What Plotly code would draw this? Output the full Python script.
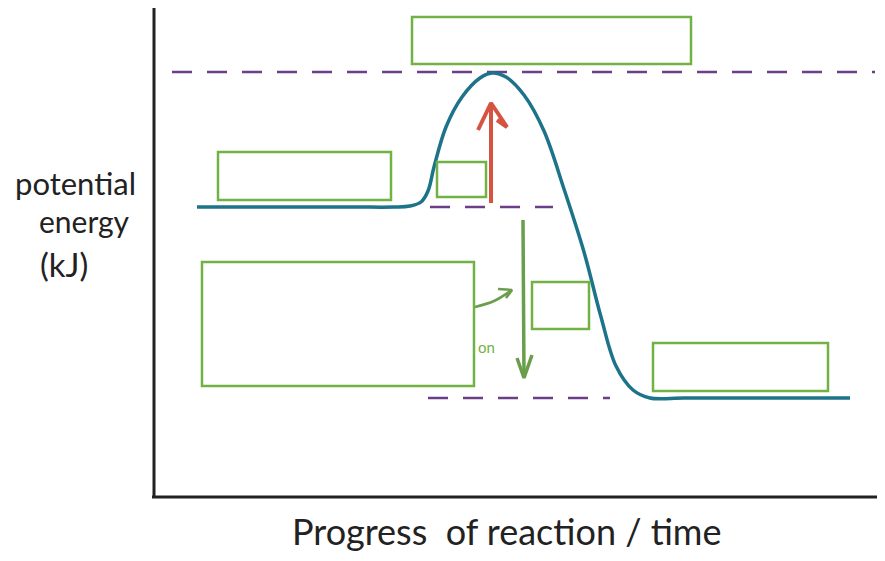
import plotly.graph_objects as go

# ---- data (progress units = px from y-axis, energy units = px above x-axis) ----
curve_progress = [43, 120, 200, 240, 256, 267, 274, 280, 292, 308, 326, 338, 352, 370, 390, 410, 430, 447, 462, 479, 496, 530, 600, 696]
curve_energy = [290, 290, 290, 290, 291, 295, 306, 330, 370, 400, 419, 424, 420, 402, 366, 308, 245, 180, 131, 107, 99, 99, 99, 99]

peak_energy = 425
reactant_energy = 290
product_energy = 99

# dashed guide levels: (start, end, level)
guide_start = [18, 276, 274]
guide_end = [721, 399, 456]
guide_level = [peak_energy, reactant_energy, product_energy]

# label boxes (blank)
box_x0 = [258, 64, 283, 48, 378, 499]
box_x1 = [537, 237, 332, 320, 435, 674]
box_y0 = [433, 297, 300, 111, 168, 106]
box_y1 = [480, 345, 335, 235, 215, 154]

# activation energy arrow (up) and enthalpy arrow (down)
ea_x = [337, 337]
ea_y = [294, 394]
ea_head_x = [324, 337, 353, 343]
ea_head_y = [367, 394, 370, 377]
dh_x = [369, 370]
dh_y = [277, 119]
dh_head_x = [363, 370, 378]
dh_head_y = [139, 119, 142]
pointer_x = [321, 340, 358]
pointer_y = [190, 196, 207]
pointer_head_x = [344, 358, 352]
pointer_head_y = [208, 207, 199]

x_title = "Progress  of reaction / time"
y_title = ["potential", "energy", "(kJ)"]

fig = go.Figure()

# guide lines
for s, e, lv in zip(guide_start, guide_end, guide_level):
    fig.add_trace(go.Scatter(x=[s, e], y=[lv, lv], mode="lines",
                             line=dict(color="#6b3f87", width=2.5, dash="20px,15px"),
                             hoverinfo="skip", showlegend=False))

# boxes
for x0, x1, y0, y1 in zip(box_x0, box_x1, box_y0, box_y1):
    fig.add_shape(type="rect", x0=x0, x1=x1, y0=y0, y1=y1, xref="x", yref="y",
                  line=dict(color="#72b244", width=2.5), fillcolor="rgba(0,0,0,0)")

# energy curve
fig.add_trace(go.Scatter(x=curve_progress, y=curve_energy, mode="lines",
                         line=dict(color="#1d7389", width=3.5, shape="spline", smoothing=1.0),
                         hoverinfo="skip", showlegend=False))

# arrows
fig.add_trace(go.Scatter(x=ea_x, y=ea_y, mode="lines", line=dict(color="#d65241", width=4),
                         hoverinfo="skip", showlegend=False))
fig.add_trace(go.Scatter(x=ea_head_x, y=ea_head_y, mode="lines", line=dict(color="#d65241", width=4),
                         hoverinfo="skip", showlegend=False))
fig.add_trace(go.Scatter(x=dh_x, y=dh_y, mode="lines", line=dict(color="#6a9e4c", width=3.5),
                         hoverinfo="skip", showlegend=False))
fig.add_trace(go.Scatter(x=dh_head_x, y=dh_head_y, mode="lines", line=dict(color="#6a9e4c", width=3.5),
                         hoverinfo="skip", showlegend=False))
fig.add_trace(go.Scatter(x=pointer_x, y=pointer_y, mode="lines",
                         line=dict(color="#6a9e4c", width=2.5, shape="spline"),
                         hoverinfo="skip", showlegend=False))
fig.add_trace(go.Scatter(x=pointer_head_x, y=pointer_head_y, mode="lines",
                         line=dict(color="#6a9e4c", width=2.5),
                         hoverinfo="skip", showlegend=False))

# hand-drawn axes
fig.add_shape(type="line", x0=0, x1=0, y0=0, y1=492, xref="x", yref="y",
              line=dict(color="#222222", width=3))
fig.add_shape(type="line", x0=-2, x1=731, y0=0, y1=0, xref="x", yref="y",
              line=dict(color="#222222", width=3))

# texts
fig.add_annotation(x=332, y=150, text="on", showarrow=False, xanchor="center", yanchor="middle",
                   font=dict(family="Lato", size=15, color="#72b244"))
fig.add_annotation(x=352, y=-34, text=x_title, showarrow=False, xanchor="center", yanchor="middle",
                   font=dict(family="Lato", size=36, color="#222222"))
for txt, xx, yy, sz in zip(y_title, [-79, -70, -90], [314, 276, 233], [31, 30, 33]):
    fig.add_annotation(x=xx, y=yy, text=txt, showarrow=False, xanchor="center", yanchor="middle",
                       font=dict(family="Lato", size=sz, color="#222222"))

fig.update_layout(
    width=885, height=561, margin=dict(l=0, r=0, t=0, b=0),
    paper_bgcolor="white", plot_bgcolor="white",
    xaxis=dict(range=[-146, 739], visible=False, fixedrange=True),
    yaxis=dict(range=[-72, 489], visible=False, fixedrange=True),
    showlegend=False,
)

fig.write_html("out.html")
